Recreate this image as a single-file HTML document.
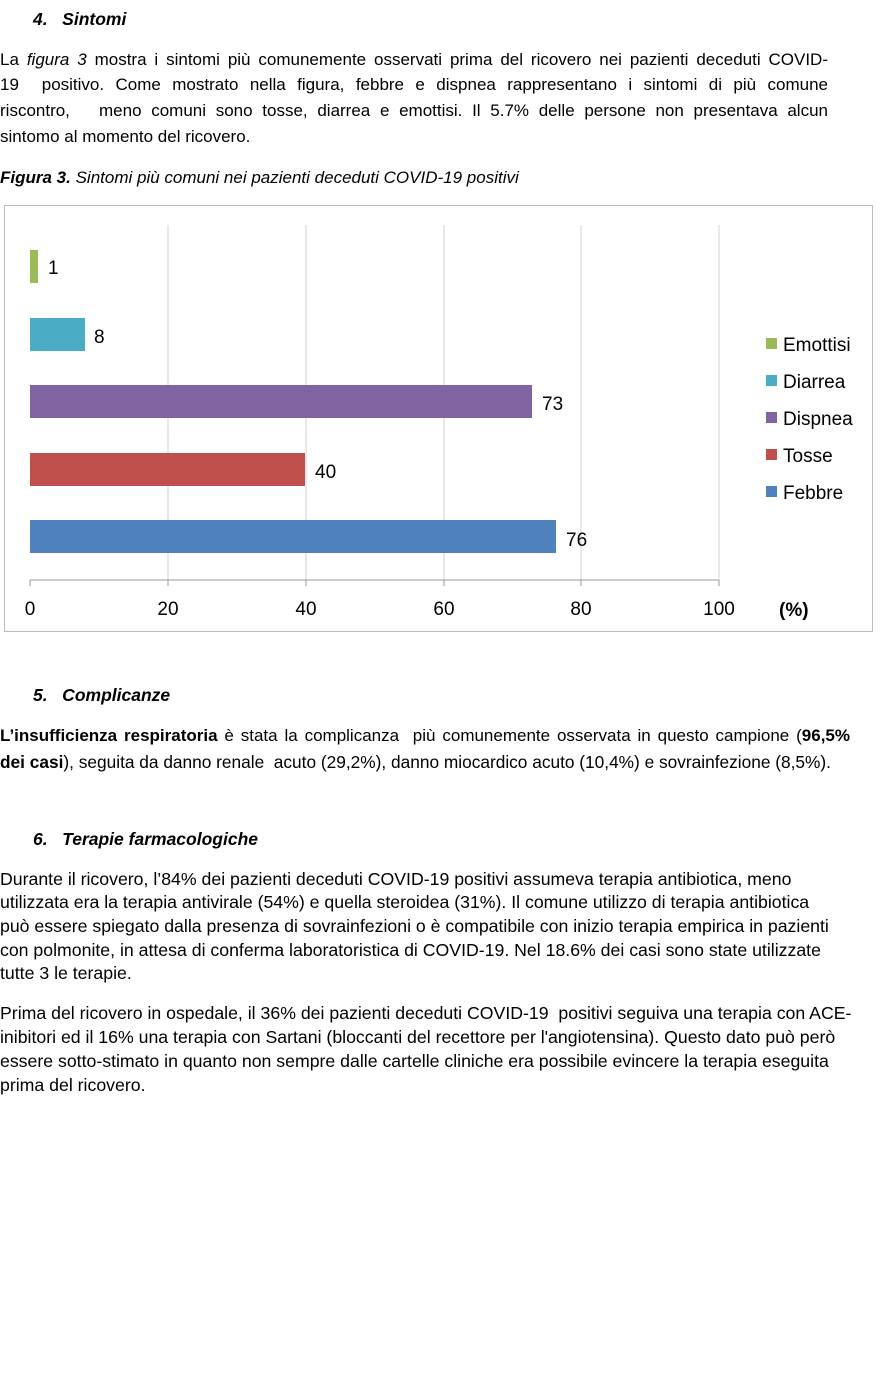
<!DOCTYPE html>
<html><head><meta charset="utf-8"><style>
body{margin:0;width:880px;height:1374px;background:#fff;position:relative;font-family:"Liberation Sans",sans-serif;color:#000;overflow:hidden}
.t{position:absolute;left:0;font-size:17.7px;white-space:nowrap}
.j{width:828px;text-align:justify;text-align-last:justify}
.h{position:absolute;font-size:17.5px;font-weight:bold;font-style:italic}
svg text{font-family:"Liberation Sans",sans-serif}
</style></head><body>
<div class="h" style="left:33px;top:9px">4.&nbsp;&nbsp;&nbsp;Sintomi</div>
<div class="t j" style="top:50px;font-size:17px">La <i>figura 3</i> mostra i sintomi più comunemente osservati prima del ricovero nei pazienti deceduti COVID-</div>
<div class="t j" style="top:75px;font-size:17px">19&nbsp; positivo. Come mostrato nella figura, febbre e dispnea rappresentano i sintomi di più comune</div>
<div class="t j" style="top:101px;font-size:17px">riscontro,&nbsp;&nbsp; meno comuni sono tosse, diarrea e emottisi. Il 5.7% delle persone non presentava alcun</div>
<div class="t" style="top:127px;font-size:17px">sintomo al momento del ricovero.</div>
<div class="t" style="top:168px;font-style:italic;font-size:17px"><b>Figura 3.</b> Sintomi più comuni nei pazienti deceduti COVID-19 positivi</div>
<svg style="position:absolute;left:0;top:0" width="880" height="640">
<rect x="4.5" y="205.5" width="868" height="426" fill="none" stroke="#bbb"/>
<g stroke="#d0d0d0">
<line x1="168" y1="225" x2="168" y2="580"/><line x1="306" y1="225" x2="306" y2="580"/><line x1="444" y1="225" x2="444" y2="580"/><line x1="581" y1="225" x2="581" y2="580"/><line x1="719" y1="225" x2="719" y2="580"/>
</g>
<g stroke="#999"><line x1="30" y1="580" x2="719" y2="580"/>
<line x1="30" y1="580" x2="30" y2="586"/><line x1="168" y1="580" x2="168" y2="586"/><line x1="306" y1="580" x2="306" y2="586"/><line x1="444" y1="580" x2="444" y2="586"/><line x1="581" y1="580" x2="581" y2="586"/><line x1="719" y1="580" x2="719" y2="586"/></g>
<rect x="30" y="250" width="8" height="33" fill="#9bbb59"/>
<rect x="30" y="318" width="55" height="33" fill="#4bacc6"/>
<rect x="30" y="385" width="502" height="33" fill="#8064a2"/>
<rect x="30" y="453" width="275" height="33" fill="#c0504d"/>
<rect x="30" y="520" width="526" height="33" fill="#4f81bd"/>
<g font-size="19" fill="#000">
<text x="48" y="274">1</text><text x="94" y="343">8</text><text x="542" y="410">73</text><text x="315" y="478">40</text><text x="566" y="546">76</text>
<g text-anchor="middle"><text x="30" y="615">0</text><text x="168" y="615">20</text><text x="306" y="615">40</text><text x="444" y="615">60</text><text x="581" y="615">80</text><text x="719" y="615">100</text></g>
<text x="779" y="616" font-weight="bold">(%)</text>
<text x="783" y="351">Emottisi</text><text x="783" y="388">Diarrea</text><text x="783" y="425">Dispnea</text><text x="783" y="462">Tosse</text><text x="783" y="499">Febbre</text>
</g>
<rect x="766" y="338" width="11" height="11" fill="#9bbb59"/><rect x="766" y="375" width="11" height="11" fill="#4bacc6"/><rect x="766" y="412" width="11" height="11" fill="#8064a2"/><rect x="766" y="449" width="11" height="11" fill="#c0504d"/><rect x="766" y="486" width="11" height="11" fill="#4f81bd"/>
</svg>
<div class="h" style="left:33px;top:685px">5.&nbsp;&nbsp;&nbsp;Complicanze</div>
<div class="t" style="top:726px;width:850px;font-size:17px;text-align:justify;text-align-last:justify"><b>L’insufficienza respiratoria</b> è stata la complicanza&nbsp; più comunemente osservata in questo campione (<b>96,5%</b></div>
<div class="t" style="top:752px;font-size:17.3px"><b>dei casi</b>), seguita da danno renale&nbsp; acuto (29,2%), danno miocardico acuto (10,4%) e sovrainfezione (8,5%).</div>
<div class="h" style="left:33px;top:829px">6.&nbsp;&nbsp;&nbsp;Terapie farmacologiche</div>
<div class="t" style="top:869px">Durante il ricovero, l’84% dei pazienti deceduti COVID-19 positivi assumeva terapia antibiotica, meno</div>
<div class="t" style="top:892px">utilizzata era la terapia antivirale (54%) e quella steroidea (31%). Il comune utilizzo di terapia antibiotica</div>
<div class="t" style="top:916px">può essere spiegato dalla presenza di sovrainfezioni o è compatibile con inizio terapia empirica in pazienti</div>
<div class="t" style="top:940px">con polmonite, in attesa di conferma laboratoristica di COVID-19. Nel 18.6% dei casi sono state utilizzate</div>
<div class="t" style="top:963px">tutte 3 le terapie.</div>
<div class="t" style="top:1003px">Prima del ricovero in ospedale, il 36% dei pazienti deceduti COVID-19&nbsp; positivi seguiva una terapia con ACE-</div>
<div class="t" style="top:1027px">inibitori ed il 16% una terapia con Sartani (bloccanti del recettore per l'angiotensina). Questo dato può però</div>
<div class="t" style="top:1051px">essere sotto-stimato in quanto non sempre dalle cartelle cliniche era possibile evincere la terapia eseguita</div>
<div class="t" style="top:1075px">prima del ricovero.</div>
</body></html>
